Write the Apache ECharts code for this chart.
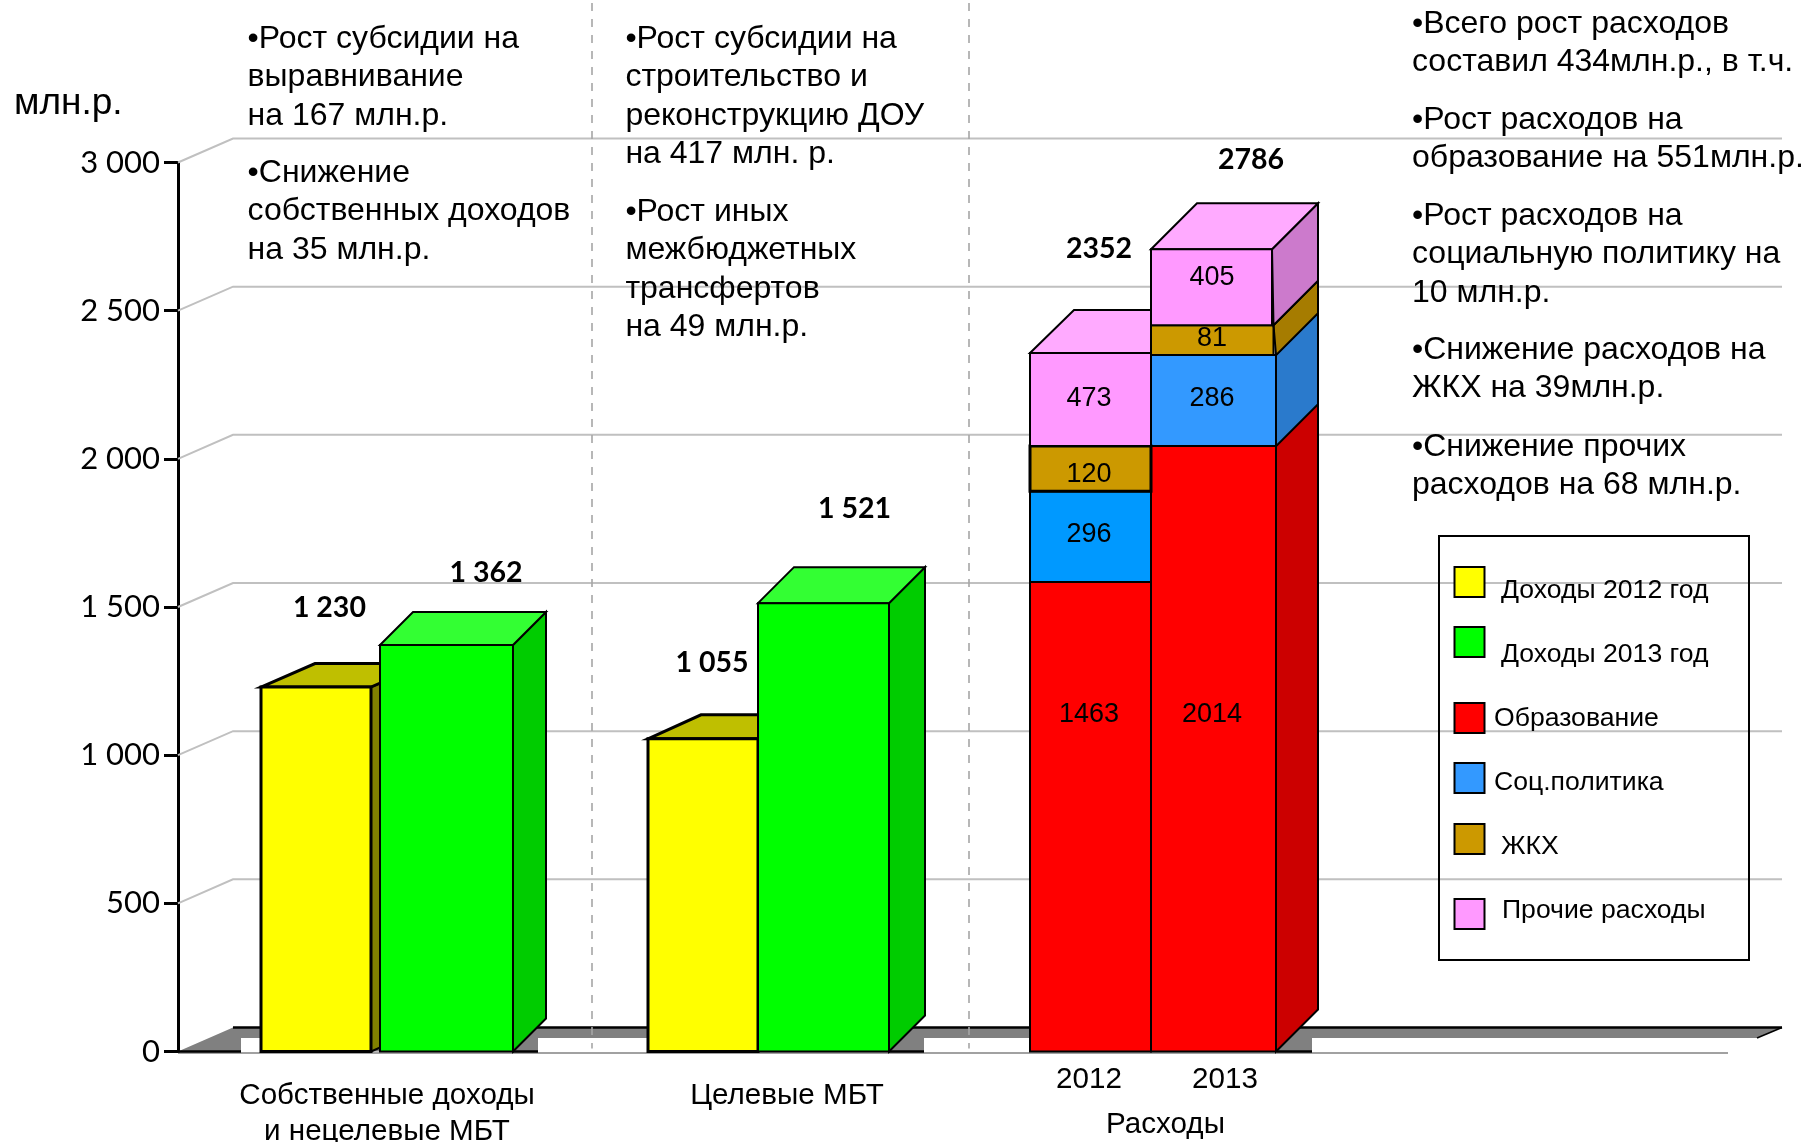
<!DOCTYPE html>
<html><head><meta charset="utf-8">
<style>html,body{margin:0;padding:0;background:#fff}#c{width:1806px;height:1142px}</style>
<script src="https://cdn.jsdelivr.net/npm/echarts@6/dist/echarts.min.js"></script>
</head><body><div id="c"></div>
<script>
// ---- data ----
var categories = ['Собственные доходы\nи нецелевые МБТ', 'Целевые МБТ', 'Расходы', ''];
var yTicks = [500, 1000, 1500, 2000, 2500, 3000];
// Bar heights as drawn against the axis in the reference
var income2012 = [1230, 1055];
var income2013 = [1372, 1513];
var education = [1584, 2043];
var social = [307, 307];
var housing = [152, 101];
var other = [314, 256];
// Numbers as printed on the reference
var income2012Labels = ['1 230', '1 055'];
var income2013Labels = ['1 362', '1 521'];
var educationLabels = ['1463', '2014'];
var socialLabels = ['296', '286'];
var housingLabels = ['120', '81'];
var otherLabels = ['473', '405'];
var totalLabels = ['2352', '2786'];
var expenseYears = ['2012', '2013'];
var legendNames = ['Доходы 2012 год', 'Доходы 2013 год', 'Образование', 'Соц.политика', 'ЖКХ', 'Прочие расходы'];
var notes = [
  {x: 247.6, y: 39.2, lines: ['•Рост субсидии на', 'выравнивание', 'на 167 млн.р.']},
  {x: 247.6, y: 173.2, lines: ['•Снижение', 'собственных доходов', 'на 35 млн.р.']},
  {x: 625.4, y: 39.2, lines: ['•Рост субсидии на', 'строительство и', 'реконструкцию ДОУ', 'на 417 млн. р.']},
  {x: 625.4, y: 212.2, lines: ['•Рост иных', 'межбюджетных', 'трансфертов', 'на 49 млн.р.']},
  {x: 1412, y: 24.2, lines: ['•Всего рост расходов', 'составил 434млн.р., в т.ч.']},
  {x: 1412, y: 120.2, lines: ['•Рост расходов на', 'образование на 551млн.р.']},
  {x: 1412, y: 216.2, lines: ['•Рост расходов на', 'социальную политику на', '10 млн.р.']},
  {x: 1412, y: 350.2, lines: ['•Снижение расходов на', 'ЖКХ на 39млн.р.']},
  {x: 1412, y: 447.2, lines: ['•Снижение прочих', 'расходов на 68 млн.р.']}
];

// ---- drawing ----
var SANS = '"Liberation Sans", Arial, sans-serif', LATO = 'Lato, sans-serif';
var chart = echarts.init(document.getElementById('c'), null, {renderer: 'canvas'});
var AXIS_GAP = 9, NOTE_FONT = 32, NOTE_LH = 38.3, AXIS_FONT = 29.6;

function txt(s, x, y, size, family, weight, align) {
  return {type: 'text', silent: true, style: {text: s, x: x, y: y, fill: '#000', fontSize: size, fontFamily: family,
    fontWeight: weight || 'normal', align: align || 'center', verticalAlign: 'middle', textAlign: align || 'center', textVerticalAlign: 'middle'}};
}
function poly(pts, fill, lw) {
  return {type: 'polygon', silent: true, shape: {points: pts}, style: {fill: fill, stroke: '#000', lineWidth: lw, lineJoin: 'miter'}};
}

function gridRender(params, api) {
  var p = api.coord([0, api.value(1)]), cs = params.coordSys, y = p[1];
  var x0 = cs.x - AXIS_GAP;
  return {type: 'polyline', silent: true,
    shape: {points: [[x0, y], [x0 + 55, y - 24], [cs.x + cs.width - 5, y - 24]]},
    style: {fill: 'none', stroke: '#c0c0c0', lineWidth: 2}};
}

function floorRender(params, api) {
  var cs = params.coordSys, y = api.coord([0, 0])[1], x0 = cs.x - AXIS_GAP, xR = cs.x + cs.width - 5, kids = [];
  kids.push({type: 'polygon', silent: true, shape: {points: [[x0, y], [x0 + 55, y - 24], [xR, y - 24], [xR - 25, y - 13.5], [1400, y - 13.5], [1400, y]]}, style: {fill: '#808080'}});
  [[241, 261], [538, 648], [924, 1030], [1312, 1790]].forEach(function (r) {
    kids.push({type: 'rect', silent: true, shape: {x: r[0], y: y - 13.5, width: r[1] - r[0], height: 15}, style: {fill: '#fff'}});
  });
  kids.push({type: 'line', silent: true, shape: {x1: x0 + 55, y1: y - 24, x2: xR, y2: y - 24}, style: {stroke: '#000', lineWidth: 2.5}});
  kids.push({type: 'line', silent: true, shape: {x1: xR, y1: y - 24, x2: xR - 25, y2: y - 13.5}, style: {stroke: '#000', lineWidth: 1.5}});
  kids.push({type: 'line', silent: true, shape: {x1: x0, y1: y + 1.5, x2: 1728, y2: y + 1.5}, style: {stroke: '#444', lineWidth: 1.2}});
  [[x0, 241], [513, 538], [889, 924], [1277, 1312]].forEach(function (r) {
    kids.push({type: 'line', silent: true, shape: {x1: r[0], y1: y, x2: r[1], y2: y}, style: {stroke: '#000', lineWidth: 2.5}});
  });
  [592, 969].forEach(function (x) {
    kids.push({type: 'line', silent: true, shape: {x1: x, y1: 3, x2: x, y2: y - 3}, style: {stroke: '#a6a6a6', lineWidth: 1.6, lineDash: [8, 8]}});
  });
  return {type: 'group', children: kids};
}

var incomeLook = [
  {left: [-126, -139], width: [110, 110], depth: [[54, 23.5], [53, 24]], front: '#ffff00', top: '#bfbf00', side: '#808000', lw: 3,
    labels: income2012Labels, labelOff: [[68.4, -79], [64, -76]]},
  {left: [-7, -29], width: [133, 131], depth: [[33, 33], [36, 36]], front: '#00ff00', top: '#33ff33', side: '#00cc00', lw: 2,
    labels: income2013Labels, labelOff: [[106, -72], [96.6, -94]]}
];
function incomeRender(look) {
  return function (params, api) {
    var i = api.value(3), c = api.coord([api.value(0), api.value(2)]), b = api.coord([api.value(0), 0]);
    var xl = c[0] + look.left[i], xr = xl + look.width[i], yt = c[1], yb = b[1], d = look.depth[i];
    return {type: 'group', children: [
      poly([[xr, yb], [xr + d[0], yb - d[1]], [xr + d[0], yt - d[1]], [xr, yt]], look.side, look.lw === 3 ? 2 : look.lw),
      poly([[xl, yt], [xl + d[0], yt - d[1]], [xr + d[0], yt - d[1]], [xr, yt]], look.top, look.lw),
      poly([[xl, yb], [xl, yt], [xr, yt], [xr, yb]], look.front, look.lw),
      txt(look.labels[i], xl + look.labelOff[i][0], yt + look.labelOff[i][1], 28.5, LATO, 'bold')
    ]};
  };
}

var stackLeft = [-157, -36], stackWidth = [121, 125], stackDepth = [[44, 43], [46, 46]], BACK_INSET = 42;
var totalX = [69, 100], totalDy = [-104, -89.5];
function stackRender(look) {
  return function (params, api) {
    var i = api.value(3), cat = api.value(0);
    var t = api.coord([cat, api.value(2)]), b = api.coord([cat, api.value(1)]);
    var xl = t[0] + stackLeft[i], xFull = xl + stackWidth[i], xBack = xFull + BACK_INSET;
    var xr = xFull - (look.inset ? look.inset[i] : 0), xrB = xFull - (look.insetBelow ? look.insetBelow[i] : 0);
    var kids = [];
    if (i === 1) { // the 2012 column's right face is hidden by the 2013 column
      kids.push(poly([[xrB, b[1]], [xBack, b[1] - (xBack - xrB)], [xBack, t[1] - (xBack - xr)], [xr, t[1]]], look.side, 2));
    }
    if (look.top) {
      var d = stackDepth[i];
      var pts = i === 1 ? [[xl, t[1]], [xl + d[0], t[1] - d[1]], [xBack, t[1] - d[1]], [xr, t[1]]]
                        : [[xl, t[1]], [xl + d[0], t[1] - d[1]], [xr, t[1] - d[1]], [xr, t[1]]];
      kids.push(poly(pts, look.top, 2));
    }
    kids.push(poly([[xl, b[1]], [xl, t[1]], [xr, t[1]], [xr, b[1]]], look.front[i], look.lw ? look.lw[i] : 2));
    kids.push(txt(look.labels[i], (xl + xFull) / 2 - 1.5, (t[1] + b[1]) / 2 + look.labelDy[i], 27, SANS));
    if (look.top) kids.push(txt(totalLabels[i], xl + totalX[i], t[1] + totalDy[i], 28.5, LATO, 'bold'));
    if (look.years) kids.push(txt(expenseYears[i], xl + look.years[i], 1080, AXIS_FONT, SANS));
    return {type: 'group', children: kids};
  };
}

function incomeRows(vals) { return vals.map(function (v, i) { return [i, 0, v, i]; }); }
function stackRows(vals, bases) {
  return vals.map(function (v, i) { return [2, bases[i], bases[i] + v, i]; });
}
function addUp(a, b) { return a.map(function (v, i) { return v + b[i]; }); }
var zero = [0, 0], base1 = education, base2 = addUp(base1, social), base3 = addUp(base2, housing);

function custom(name, data, render, z) {
  return {name: name, type: 'custom', coordinateSystem: 'cartesian2d', data: data, renderItem: render, clip: false, silent: true, z: z,
    encode: {x: 0, y: 2}, animation: false};
}

var series = [
  custom('grid', yTicks.map(function (v) { return [0, v, v]; }), gridRender, 1),
  custom('floor', [[0, 0, 0]], floorRender, 1),
  custom(legendNames[0], incomeRows(income2012), incomeRender(incomeLook[0]), 2),
  custom(legendNames[1], incomeRows(income2013), incomeRender(incomeLook[1]), 2),
  custom(legendNames[2], stackRows(education, zero), stackRender({front: ['#ff0000', '#ff0000'], side: '#cc0000', labels: educationLabels, labelDy: [-102, -34.5], years: [59, 74]}), 2),
  custom(legendNames[3], stackRows(social, base1), stackRender({front: ['#0099ff', '#3399ff'], side: '#2a7acc', labels: socialLabels, labelDy: [-2.5, -2]}), 2),
  custom(legendNames[4], stackRows(housing, base2), stackRender({front: ['#cc9900', '#cc9900'], side: '#a67c00', labels: housingLabels, labelDy: [6, -2], inset: [0, 2.5], lw: [3, 2]}), 2),
  custom(legendNames[5], stackRows(other, base3), stackRender({front: ['#ff99ff', '#ff99ff'], top: '#ffaaff', side: '#cc7acc', labels: otherLabels, labelDy: [-1, -10], inset: [0, 4], insetBelow: [0, 2.5]}), 2)
];

var graphic = [];
graphic.push(Object.assign(txt('млн.р.', 14, 103.5, 37, SANS, 'normal', 'left'), {z: 100}));
notes.forEach(function (n) {
  n.lines.forEach(function (line, k) {
    graphic.push(Object.assign(txt(line, n.x, n.y + k * NOTE_LH, NOTE_FONT, SANS, 'normal', 'left'), {z: 100}));
  });
});
graphic.push({type: 'rect', silent: true, z: 100, shape: {x: 1439, y: 536, width: 310, height: 424}, style: {fill: 'none', stroke: '#000', lineWidth: 2}});
var swatchColors = ['#ffff00', '#00ff00', '#ff0000', '#3399ff', '#cc9900', '#ff99ff'];
var swatchY = [567, 627, 703, 763, 824, 899], textX = [1501, 1501, 1494, 1494, 1501, 1502], textY = [591, 655, 719, 783, 847, 911];
legendNames.forEach(function (name, i) {
  graphic.push({type: 'rect', silent: true, z: 100, shape: {x: 1454.5, y: swatchY[i], width: 30, height: 30}, style: {fill: swatchColors[i], stroke: '#000', lineWidth: 2}});
  graphic.push(Object.assign(txt(name, textX[i], textY[i], 26.6, SANS, 'normal', 'left'), {z: 100}));
});
// the expenses group label sits off-centre, below its year labels
graphic.push(Object.assign(txt(categories[2], 1165.5, 1125, AXIS_FONT, SANS), {z: 100}));

chart.setOption({
  animation: false,
  backgroundColor: '#fff',
  grid: {left: 187, top: 162.5, width: 1600, height: 889, outerBoundsMode: 'none', containLabel: false},
  xAxis: {type: 'category', data: categories, axisLine: {show: false}, axisTick: {show: false},
    axisLabel: {interval: 0, margin: 26, fontSize: AXIS_FONT, lineHeight: 36, fontFamily: SANS, color: '#000',
      formatter: function (v, i) { return i < 2 ? v : ''; }}},
  yAxis: {type: 'value', min: 0, max: 3000, interval: 500, offset: AXIS_GAP, splitLine: {show: false},
    axisLine: {show: true, lineStyle: {color: '#000', width: 3}},
    axisTick: {show: true, inside: false, length: 14, lineStyle: {color: '#000', width: 3}},
    axisLabel: {margin: 18, fontSize: 31, fontFamily: LATO, color: '#000', padding: [2, 0, 0, 0],
      formatter: function (v) { return v >= 1000 ? Math.floor(v / 1000) + ' ' + ('00' + (v % 1000)).slice(-3) : String(v); }}},
  graphic: graphic,
  series: series
});
</script></body></html>
